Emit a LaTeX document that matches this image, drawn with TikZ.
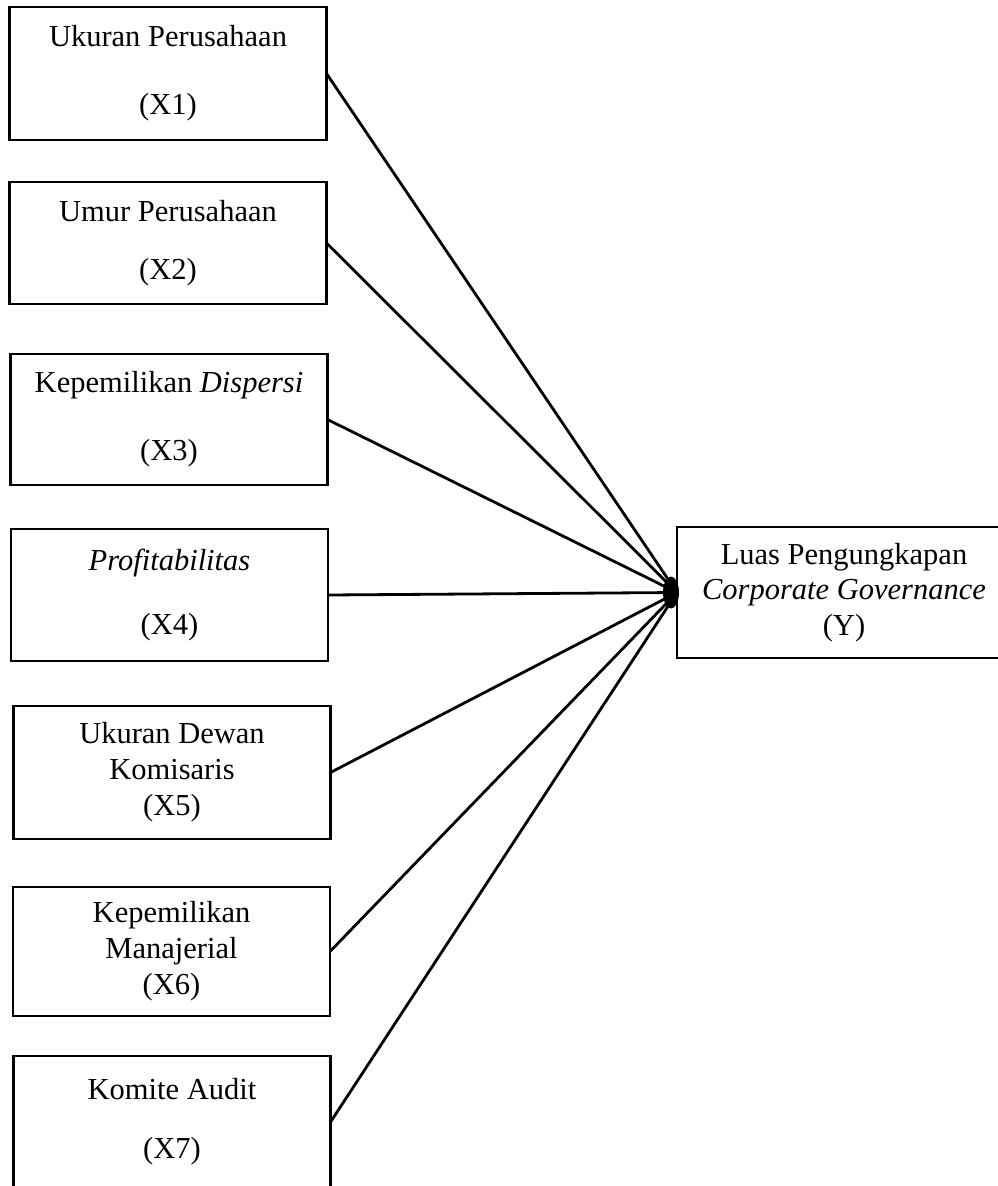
\documentclass[tikz,border=0pt]{standalone}
\usepackage{fontspec}
\setmainfont{Liberation Serif}
\begin{document}
\begin{tikzpicture}[x=1pt, y=1pt, yscale=-1, inner sep=0pt, outer sep=0pt,
	varbox/.style={rectangle, draw=black, line width=2.8, minimum width=317, minimum height=132, align=center, font=\fontsize{30.5}{36}\selectfont},
	link/.style={line width=2.8}]
\useasboundingbox (0,0) rectangle (997,1186);
	\node[varbox, minimum height=133] (X1) at (168,73.5) {Ukuran Perusahaan\\[32pt](X1)};
	\node[varbox, minimum height=122] (X2) at (168,243) {Umur Perusahaan\\[22pt](X2)};
	\node[varbox, minimum height=131] (X3) at (169,419.5) {Kepemilikan \textit{Dispersi}\\[32pt](X3)};
	\node[varbox] (X4) at (169.5,595) {\textit{Profitabilitas}\\[28pt](X4)};
	\node[varbox, minimum height=133] (X5) at (172,772.5) {Ukuran Dewan\\Komisaris\\(X5)};
	\node[varbox, minimum height=129] (X6) at (171.5,951.5) {Kepemilikan\\Manajerial\\(X6)};
	\node[varbox] (X7) at (172,1122) {Komite Audit\\[23pt](X7)};
	\node[varbox, minimum width=334, minimum height=131, font=\fontsize{30.5}{35.5}\selectfont] (Y) at (844,592.5) {Luas Pengungkapan\\\textit{Corporate Governance}\\(Y)};
	\coordinate (hub) at (Y.west);
	\foreach \i in {1,...,7}
		\draw[link] (X\i.east) -- (hub);
	\fill ([xshift=-6]hub) ellipse (8 and 16);
\end{tikzpicture}
\end{document}
